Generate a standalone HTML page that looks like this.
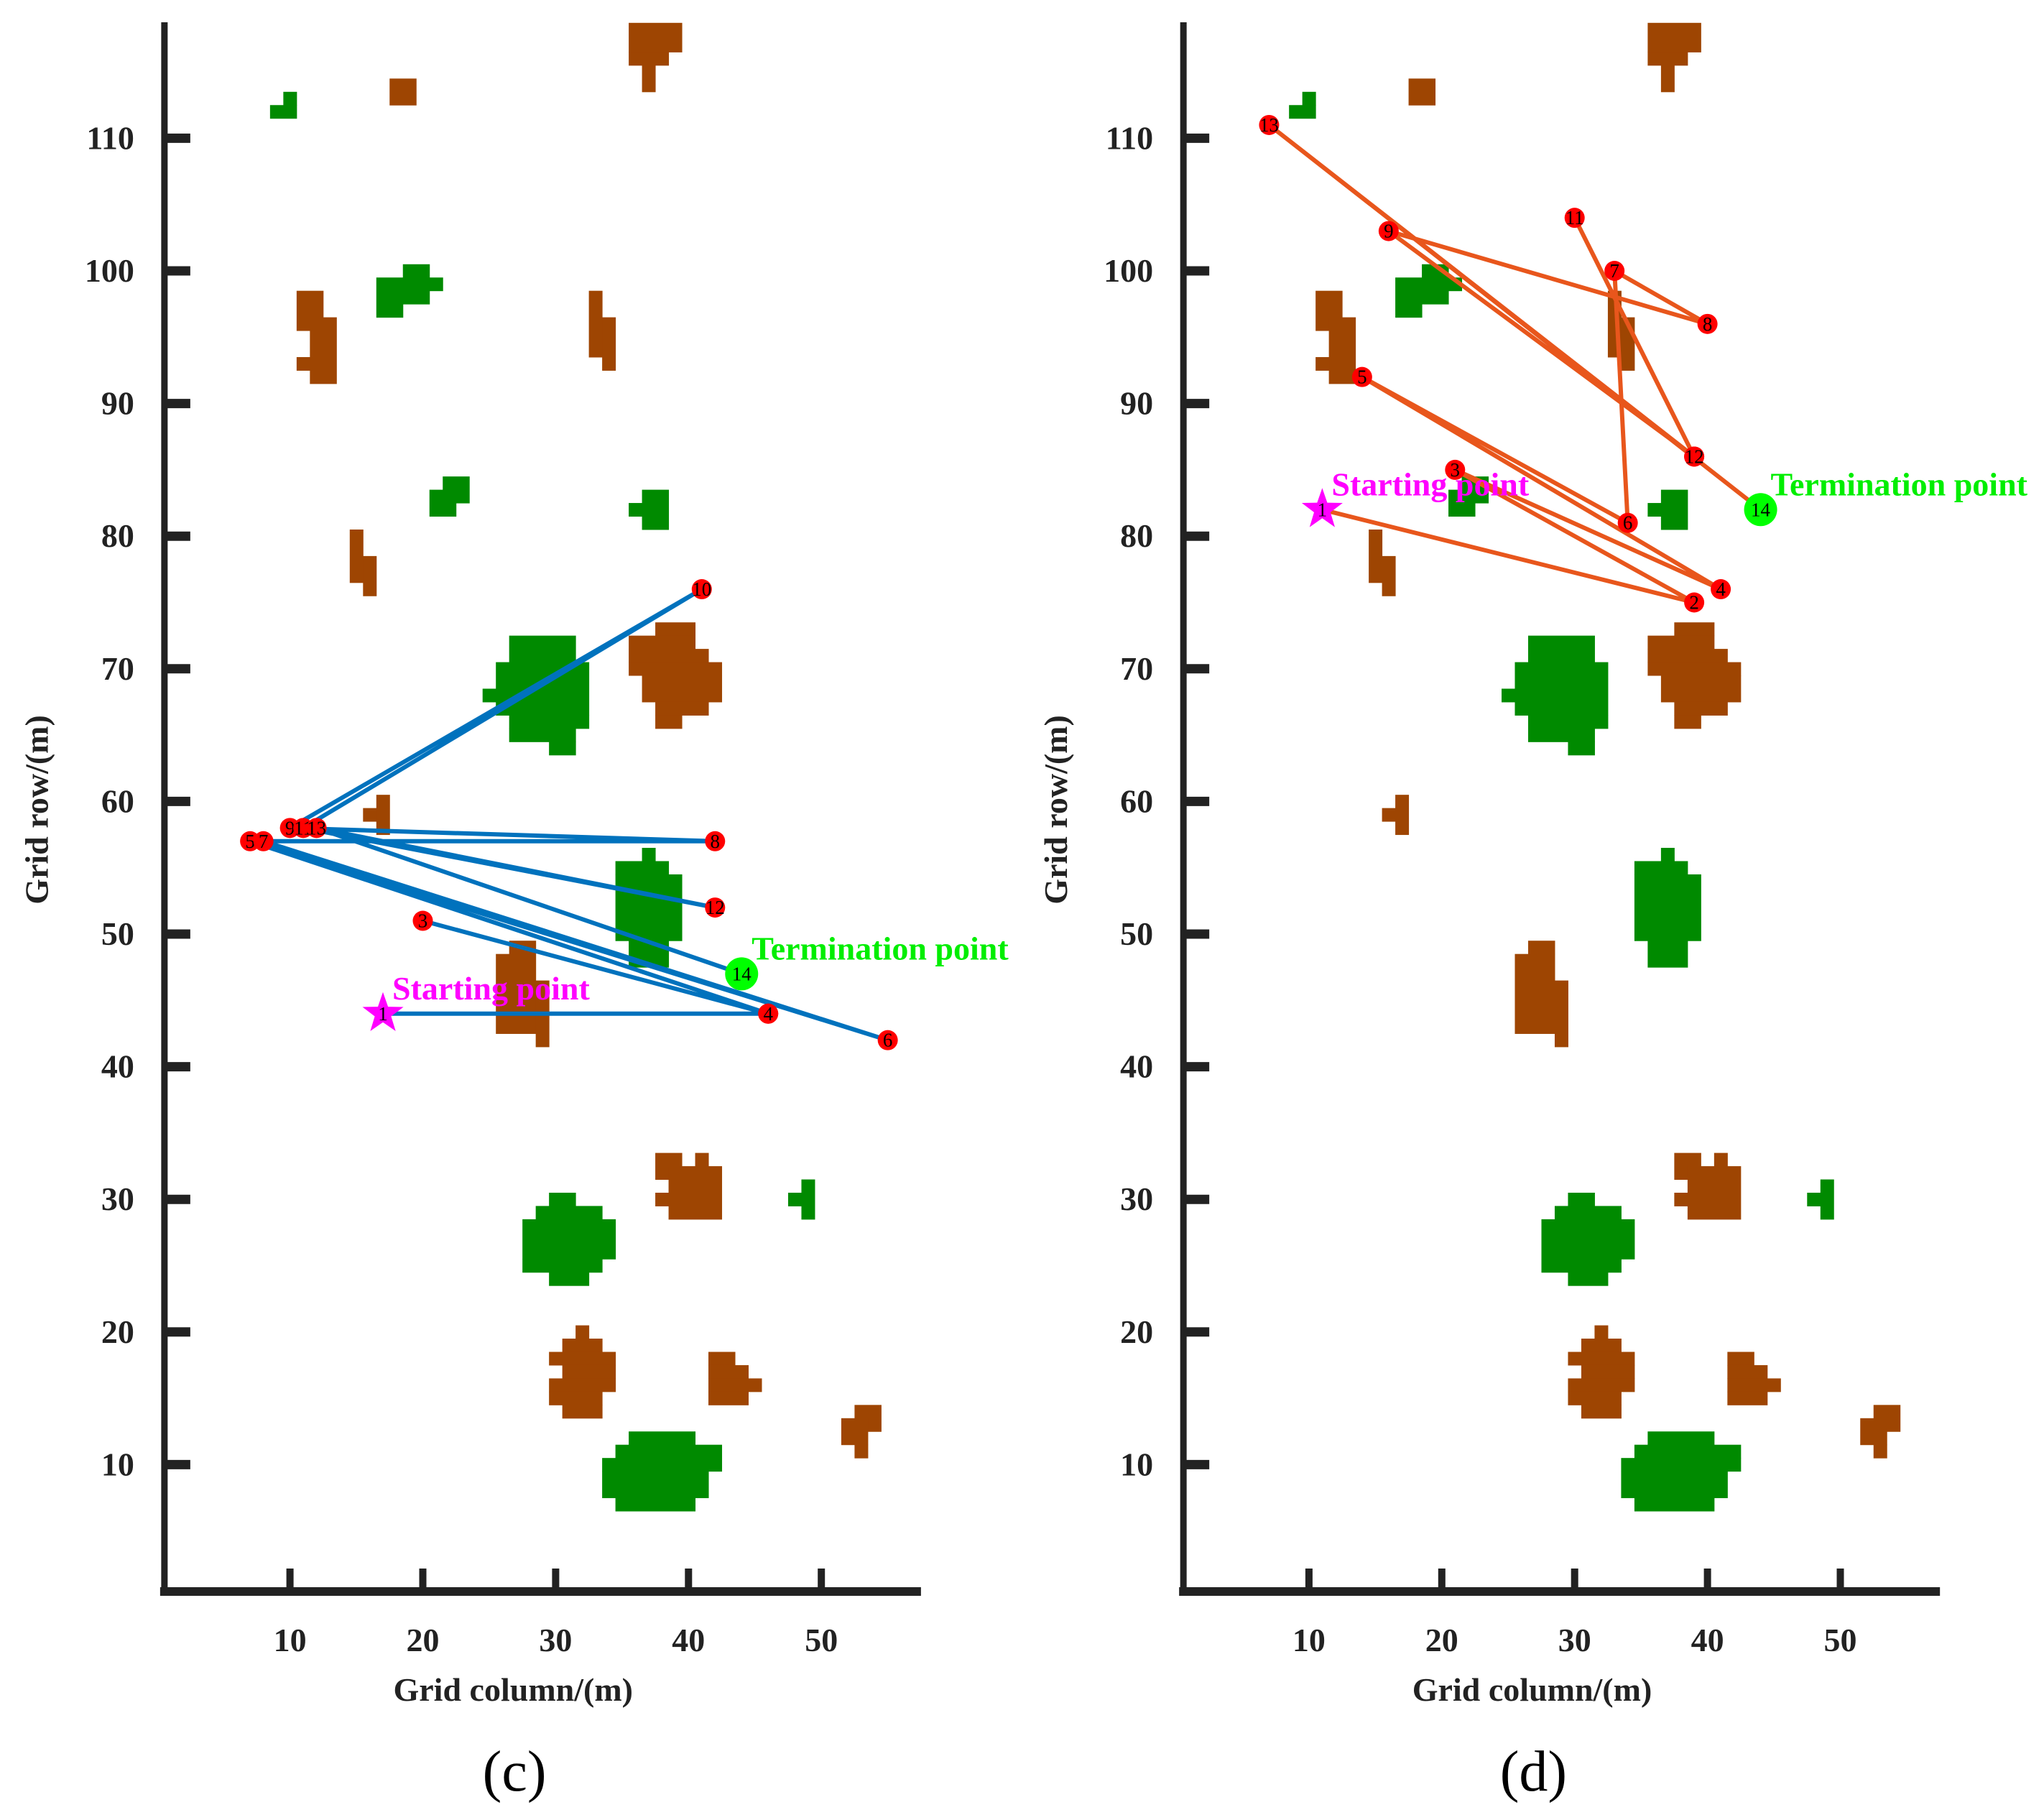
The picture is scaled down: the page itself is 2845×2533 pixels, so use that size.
<!DOCTYPE html>
<html><head><meta charset="utf-8"><style>
html,body{margin:0;padding:0;background:#fff;}
svg{display:block;}
text{font-family:"Liberation Serif",serif;}
</style></head>
<body>
<svg id="chart" width="2845" height="2533" viewBox="0 0 2845 2533" xmlns="http://www.w3.org/2000/svg"></svg>
<script>
const xTicks = [10, 20, 30, 40, 50];
const yTicks = [10, 20, 30, 40, 50, 60, 70, 80, 90, 100, 110];
// obstacle cells [x1, x2, y1, y2]
const brownObstacles = [
 [35.5,39.5,116.5,118.7],[35.5,38.5,115.5,116.5],[36.5,37.5,113.5,115.5],
 [17.5,19.5,112.5,114.5],
 [10.5,12.5,95.5,98.5],[11.5,13.5,91.5,96.5],[10.5,11.5,92.5,93.5],
 [32.5,33.5,93.5,98.5],[33.5,34.5,92.5,96.5],
 [14.5,15.5,76.5,80.5],[15.5,16.5,75.5,78.5],
 [37.5,40.5,72.5,73.5],[35.5,40.5,71.5,72.5],[35.5,41.5,70.5,71.5],[35.5,42.5,69.5,70.5],[36.5,42.5,67.5,69.5],[37.5,41.5,66.5,67.5],[37.5,39.5,65.5,66.5],
 [16.5,17.5,57.5,60.5],[15.5,16.5,58.5,59.5],
 [26.5,28.5,48.5,49.5],[25.5,28.5,42.5,48.5],[28.5,29.5,41.5,46.5],
 [37.5,39.5,31.5,33.5],[40.5,41.5,32.5,33.5],[38.5,42.5,28.5,32.5],[37.5,38.5,29.5,30.5],
 [31.5,32.5,19.5,20.5],[30.5,33.5,18.5,19.5],[29.5,34.5,17.5,18.5],[30.5,34.5,16.5,17.5],[29.5,34.5,15.5,16.5],[29.5,33.5,14.5,15.5],[30.5,33.5,13.5,14.5],
 [41.5,43.5,17.5,18.5],[41.5,44.5,16.5,17.5],[41.5,45.5,15.5,16.5],[41.5,44.5,14.5,15.5],
 [52.5,54.5,12.5,14.5],[51.5,53.5,11.5,13.5],[52.5,53.5,10.5,11.5]
];
const greenObstacles = [
 [8.5,10.5,111.5,112.5],[9.5,10.5,112.5,113.5],
 [16.5,18.5,96.5,99.5],[18.5,20.5,97.5,100.5],[20.5,21.5,98.5,99.5],
 [21.5,23.5,82.5,84.5],[20.5,22.5,81.5,83.5],
 [36.5,38.5,80.5,83.5],[35.5,36.5,81.5,82.5],
 [26.5,31.5,70.5,72.5],[25.5,32.5,66.5,70.5],[26.5,32.5,65.5,66.5],[26.5,31.5,64.5,65.5],[29.5,31.5,63.5,64.5],[24.5,25.5,67.5,68.5],
 [36.5,37.5,55.5,56.5],[34.5,38.5,54.5,55.5],[34.5,39.5,49.5,54.5],[35.5,38.5,47.5,49.5],
 [48.5,49.5,28.5,31.5],[47.5,48.5,29.5,30.5],
 [29.5,31.5,29.5,30.5],[28.5,33.5,28.5,29.5],[27.5,34.5,25.5,28.5],[27.5,33.5,24.5,25.5],[29.5,32.5,23.5,24.5],
 [35.5,40.5,11.5,12.5],[34.5,42.5,10.5,11.5],[33.5,42.5,9.5,10.5],[33.5,41.5,7.5,9.5],[34.5,40.5,6.5,7.5]
];
const pathC_x = [17,46,20,46,7,55,8,42,10,41,11,42,12,44];
const pathC_y = [44,44,51,44,57,42,57,57,58,76,58,52,58,47];
const pathD_x = [11,39,21,41,14,34,33,40,16,39,30,39,7,44];
const pathD_y = [82,75,85,76,92,81,100,96,103,86,104,86,111,82];

const NS = "http://www.w3.org/2000/svg";
const svg = document.getElementById('chart');
function mk(tag, attrs, parent){ const e=document.createElementNS(NS,tag); for(const k in attrs) e.setAttribute(k,attrs[k]); (parent||svg).appendChild(e); return e; }
const yS = v => 2223 - 18.46*v;

function drawPanel(ox, px, py, color, letter){
  const xS = v => ox + 18.49*v;
  const g = mk('g',{});
  
  
  brownObstacles.forEach(r=>{
    const e=mk('rect',{x:xS(r[0]),y:yS(r[3]),width:xS(r[1])-xS(r[0])+0.5,height:yS(r[2])-yS(r[3])+0.5,fill:'#9E4502'},g);
    
    
  });
  greenObstacles.forEach(r=>{
    const e=mk('rect',{x:xS(r[0]),y:yS(r[3]),width:xS(r[1])-xS(r[0])+0.5,height:yS(r[2])-yS(r[3])+0.5,fill:'#008A00'},g);
    
    
  });
  const axL = xS(0.55), axB = 2215;
  const ya=mk('line',{x1:axL,y1:31,x2:axL,y2:axB+6,stroke:'#222',"stroke-width":9},g);
  
  
  const xa=mk('line',{x1:axL-6,y1:axB,x2:xS(57.5),y2:axB,stroke:'#222',"stroke-width":12},g);
  
  
  yTicks.forEach(t=>{
    const l=mk('line',{x1:axL,y1:yS(t),x2:axL+36,y2:yS(t),stroke:'#222',"stroke-width":13},g);
    
    
    const tx=mk('text',{x:axL-42,y:yS(t)+15,"text-anchor":"end","font-size":46,"font-weight":"bold",fill:'#222'},g);
    tx.textContent=t;
    
    
  });
  xTicks.forEach(t=>{
    const l=mk('line',{x1:xS(t),y1:axB,x2:xS(t),y2:axB-32,stroke:'#222',"stroke-width":10},g);
    
    
    const tx=mk('text',{x:xS(t),y:2298,"text-anchor":"middle","font-size":46,"font-weight":"bold",fill:'#222'},g);
    tx.textContent=t;
    
    
  });
  const xl=mk('text',{x:xS(26.8),y:2367,"text-anchor":"middle","font-size":46,"font-weight":"bold",fill:'#222'},g);
  xl.textContent='Grid column/(m)';
  
  
  const yl=mk('text',{x:0,y:0,"text-anchor":"middle","font-size":46,"font-weight":"bold",fill:'#222',transform:`translate(${ox-152},1127) rotate(-90)`},g);
  yl.textContent='Grid row/(m)';
  
  
  const pl=mk('text',{x:xS(26.9),y:2492,"text-anchor":"middle","font-size":80,fill:'#000'},g);
  pl.textContent='('+letter+')';
  
  
  const pts = px.map((v,i)=>xS(v)+','+yS(py[i])).join(' ');
  const pth=mk('polyline',{points:pts,fill:'none',stroke:color,"stroke-width":6,"stroke-linejoin":"round"},g);
  
  
  for(let i=1;i<px.length-1;i++){
    const c=mk('circle',{cx:xS(px[i]),cy:yS(py[i]),r:14,fill:'#FF0000'},g);
    
    
    const t=mk('text',{x:xS(px[i]),y:yS(py[i])+9,"text-anchor":"middle","font-size":27,fill:'#000'},g);
    t.textContent=i+1;
    
    
  }
  const sx=xS(px[0]), sy=yS(py[0]); let sp=[];
  for(let k=0;k<10;k++){const rr=k%2?12:30; const a=-Math.PI/2+k*Math.PI/5; sp.push((sx+rr*Math.cos(a)).toFixed(1)+','+(sy+rr*Math.sin(a)).toFixed(1));}
  const st=mk('polygon',{points:sp.join(' '),fill:'#FF00FF'},g);
  
  
  const st1=mk('text',{x:sx,y:sy+9,"text-anchor":"middle","font-size":27,fill:'#000'},g);
  st1.textContent='1';
  
  
  const stl=mk('text',{x:sx+13,y:sy-20,"font-size":46,"font-weight":"bold",fill:'#FF00FF'},g);
  stl.textContent='Starting point';
  
  
  const n=px.length-1, ex=xS(px[n]), ey=yS(py[n]);
  const ec=mk('circle',{cx:ex,cy:ey,r:23,fill:'#00FF00'},g);
  
  
  const et=mk('text',{x:ex,y:ey+9,"text-anchor":"middle","font-size":27,fill:'#000'},g);
  et.textContent='14';
  
  
  const el=mk('text',{x:ex+14,y:ey-20,"font-size":46,"font-weight":"bold",fill:'#00EE00'},g);
  el.textContent='Termination point';
  
  
}
drawPanel(218.7, pathC_x, pathC_y, '#0072BD', 'c');
drawPanel(1637, pathD_x, pathD_y, '#E8561C', 'd');
</script>
</body></html>
